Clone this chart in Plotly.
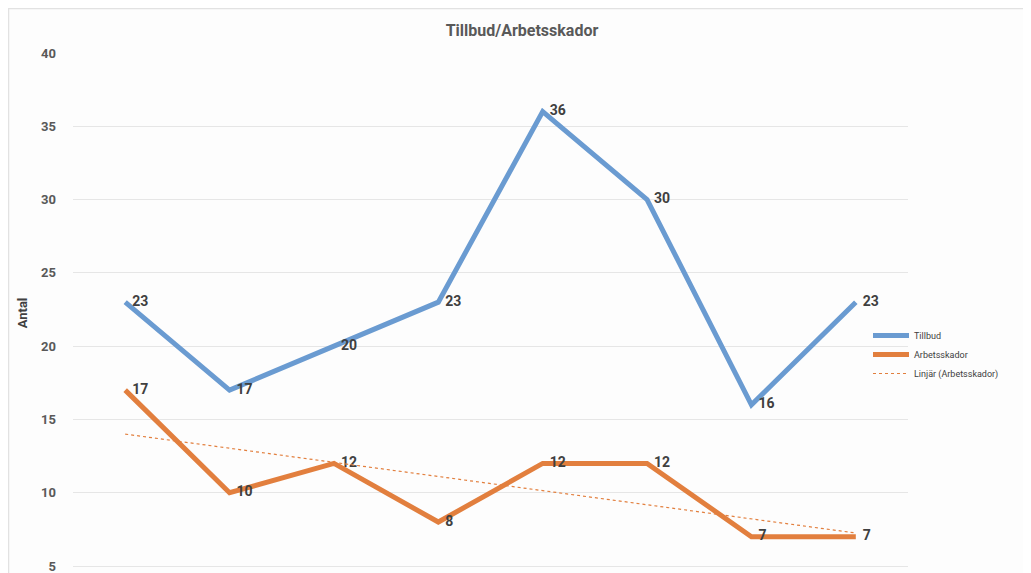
import numpy as np
import plotly.graph_objects as go

# ---- data ----
categories = [1, 2, 3, 4, 5, 6, 7, 8]
tillbud = [23, 17, 20, 23, 36, 30, 16, 23]
arbetsskador = [17, 10, 12, 8, 12, 12, 7, 7]
y_ticks = [5, 10, 15, 20, 25, 30, 35, 40]

# linear trend of Arbetsskador (least squares, like Excel "Linjär")
coef = np.polyfit(categories, arbetsskador, 1)
trend = list(np.polyval(coef, categories))

BLUE = "#6a9bd1"
ORANGE = "#e27f3e"
OFF = 8  # page body margin
W, H = 1031 - OFF, 573 - OFF
ML, MT = 73 - OFF, 53 - OFF
MR = W - (908 - OFF)
MB = 0
PX_PER_UNIT = (566 - 53) / 35.0
Y_MIN = 5 - (573 - 566) / PX_PER_UNIT

pad = "\u00a0\u00a0"

fig = go.Figure()
fig.add_trace(go.Scatter(
    x=categories, y=tillbud, name="Tillbud", mode="lines+text",
    line=dict(color=BLUE, width=5),
    text=[pad + str(v) for v in tillbud], textposition="middle right",
    textfont=dict(family="Roboto", size=14, color="#404040", weight="bold"),
    cliponaxis=False,
))
fig.add_trace(go.Scatter(
    x=categories, y=arbetsskador, name="Arbetsskador", mode="lines+text",
    line=dict(color=ORANGE, width=5),
    text=[pad + str(v) for v in arbetsskador], textposition="middle right",
    textfont=dict(family="Roboto", size=14, color="#404040", weight="bold"),
    cliponaxis=False,
))
fig.add_trace(go.Scatter(
    x=categories, y=trend, name="Linjär (Arbetsskador)", mode="lines",
    line=dict(color=ORANGE, width=1.2, dash="dot"),
))

pw = W - ML - MR
ph = H - MT - MB
# outer light frame of the chart area
fig.add_shape(type="rect", xref="paper", yref="paper",
              x0=(0.5 - ML) / pw, x1=(W + 5 - ML) / pw,
              y0=-10 / ph, y1=1 + (MT - 0.5) / ph,
              line=dict(color="#e2e2e2", width=1.5), layer="below")

fig.update_layout(
    width=W, height=H,
    margin=dict(l=ML, r=MR, t=MT, b=MB),
    paper_bgcolor="#fdfdfd", plot_bgcolor="#fdfdfd",
    font=dict(family="Roboto", color="#595959"),
    title=dict(text="<b>Tillbud/Arbetsskador</b>", x=(522 - OFF) / W, xanchor="center",
               y=1 - (30 - OFF) / H, yanchor="middle",
               font=dict(family="Roboto", size=16, color="#595959")),
    showlegend=True,
    legend=dict(x=(868 - OFF - ML) / pw, xanchor="left", y=1 - (321 - OFF - MT) / ph, yanchor="top",
                font=dict(family="Roboto", size=9, color="#404040"),
                bgcolor="rgba(0,0,0,0)", tracegroupgap=0, itemwidth=36),
    xaxis=dict(range=[0.5, 8.5], showticklabels=False, showgrid=False,
               zeroline=False, showline=False, ticks=""),
    yaxis=dict(range=[Y_MIN, 40], tickvals=y_ticks, showgrid=True,
               gridcolor="#e6e6e6", gridwidth=1, zeroline=False, showline=False,
               ticks="", ticklabelstandoff=16, ticklabeloverflow="allow",
               tickfont=dict(family="Roboto", size=13, color="#595959", weight="bold"),
               title=dict(text="<b>Antal</b>", standoff=10,
                          font=dict(family="Roboto", size=13, color="#404040"))),
)

fig.write_html("out.html")
